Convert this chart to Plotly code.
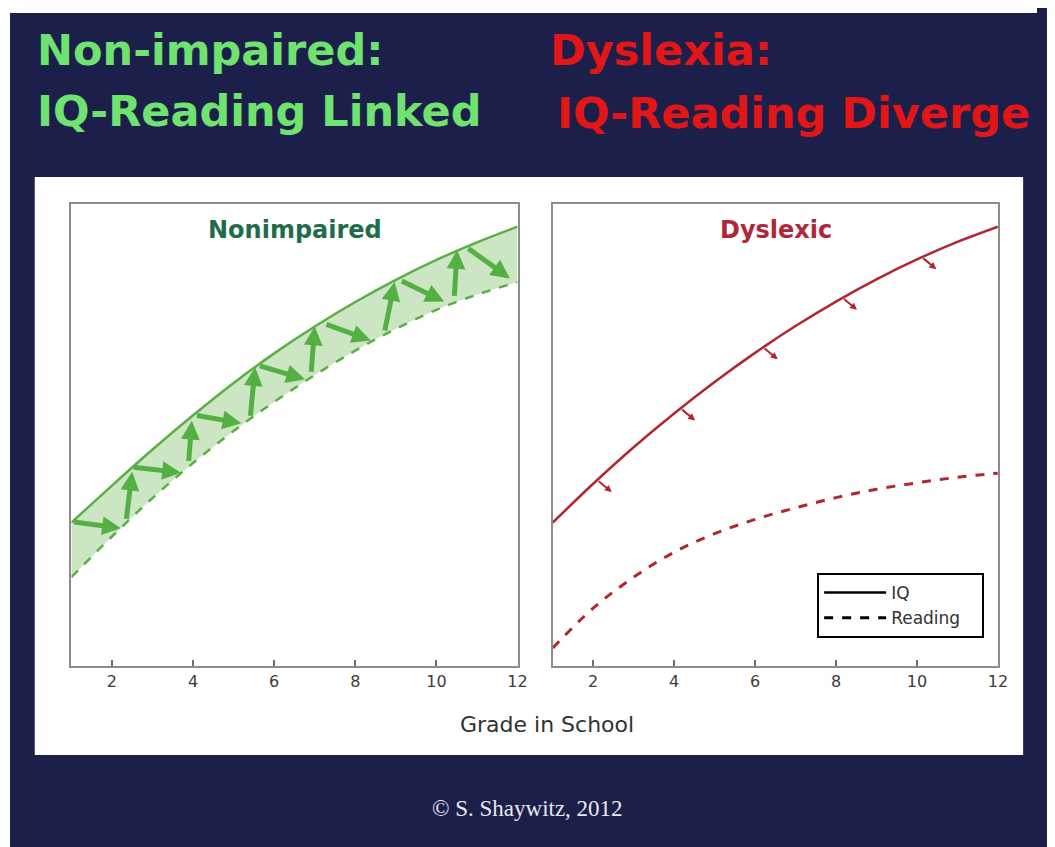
import plotly.graph_objects as go

# page body has an 8px margin; the figure fills the window width and reaches its bottom
OFF = 8
W, H = 1055 - 2 * OFF, 847 - OFF

# ---------------- data ----------------
grades = [1, 2, 3, 4, 5, 6, 7, 8, 9, 10, 11, 12]
nonimp_iq = [31, 39, 46.8, 54.2, 61.2, 67.6, 73.4, 78.7, 83.5, 87.8, 91.6, 95]
nonimp_reading = [19.2, 28.0, 36.3, 43.9, 50.8, 57.1, 62.9, 68.2, 72.9, 77.0, 80.3, 83]
dys_iq = [31, 39.4, 47.3, 54.6, 61.4, 67.7, 73.5, 78.8, 83.6, 87.9, 91.7, 95]
dys_reading = [3.9, 12.5, 19.2, 24.6, 28.6, 31.7, 34.2, 36.4, 38.2, 39.6, 40.8, 41.7]
tick_vals = [2, 4, 6, 8, 10, 12]

# green arrows IQ -> Reading (diagonal) : tails and tips
diag_tail_x = [1.03, 2.5, 4.06, 5.61, 7.25, 9.11, 10.75]
diag_tail_y = [31.2, 43, 54.2, 65, 74.0, 83.4, 90.5]
diag_tip_x = [2.22, 3.7, 5.19, 6.76, 8.38, 10.19, 11.81]
diag_tip_y = [29.8, 41.8, 52.5, 62.0, 70.4, 78.8, 83.8]
# green arrows Reading -> IQ (vertical)
vert_tail_x = [2.35, 3.89, 5.41, 6.91, 8.72, 10.44]
vert_tail_y = [31.5, 44.0, 53.8, 63.3, 72.2, 79.7]
vert_tip_x = [2.5, 3.97, 5.53, 7.0, 8.97, 10.51]
vert_tip_y = [42.0, 53.0, 64.6, 73.4, 83.0, 89.9]
# small red arrows on dyslexic IQ curve
red_tail_x = [2.1, 4.16, 6.2, 8.16, 10.12]
red_tail_y = [40.2, 55.7, 68.9, 79.6, 88.4]
red_dx = 0.36
red_dy = -2.6

# ---------------- style ----------------
NAVY = "rgb(28,31,74)"
GREEN_LINE = "rgb(92,174,72)"
GREEN_ARROW = "rgb(84,176,66)"
GREEN_FILL = "rgba(110,180,80,0.35)"
RED_LINE = "rgb(178,38,50)"
GREEN_TITLE = "rgb(30,108,74)"
RED_TITLE = "rgb(176,40,56)"
SANS = "DejaVu Sans"
NB = "\u00a0"


def px(x):
    return (x - OFF) / W


def py(y):
    return 1 - (y - OFF) / H


fig = go.Figure()

# Nonimpaired
fig.add_trace(go.Scatter(x=grades, y=nonimp_reading, mode="lines",
                         line=dict(color=GREEN_LINE, width=2.5, dash="dash", shape="spline"),
                         showlegend=False, xaxis="x", yaxis="y", hoverinfo="skip"))
fig.add_trace(go.Scatter(x=grades, y=nonimp_iq, mode="lines", fill="tonexty",
                         fillcolor=GREEN_FILL,
                         line=dict(color=GREEN_LINE, width=2.5, shape="spline"),
                         showlegend=False, xaxis="x", yaxis="y", hoverinfo="skip"))
# Dyslexic
fig.add_trace(go.Scatter(x=grades, y=dys_iq, mode="lines",
                         line=dict(color=RED_LINE, width=2.5, shape="spline"),
                         showlegend=False, xaxis="x2", yaxis="y2", hoverinfo="skip"))
fig.add_trace(go.Scatter(x=grades, y=dys_reading, mode="lines",
                         line=dict(color=RED_LINE, width=3, dash="dash", shape="spline"),
                         showlegend=False, xaxis="x2", yaxis="y2", hoverinfo="skip"))
# legend entries
fig.add_trace(go.Scatter(x=[None], y=[None], mode="lines", name="IQ",
                         line=dict(color="black", width=2.5), xaxis="x2", yaxis="y2"))
fig.add_trace(go.Scatter(x=[None], y=[None], mode="lines", name="Reading" + NB * 3,
                         line=dict(color="black", width=3, dash="dash"), xaxis="x2", yaxis="y2"))

annotations = []
for tx, ty, hx, hy in zip(diag_tail_x, diag_tail_y, diag_tip_x, diag_tip_y):
    annotations.append(dict(x=hx, y=hy, ax=tx, ay=ty, xref="x", yref="y", axref="x", ayref="y",
                            text="", showarrow=True, arrowhead=2, arrowsize=0.75,
                            arrowwidth=5, arrowcolor=GREEN_ARROW))
for tx, ty, hx, hy in zip(vert_tail_x, vert_tail_y, vert_tip_x, vert_tip_y):
    annotations.append(dict(x=hx, y=hy, ax=tx, ay=ty, xref="x", yref="y", axref="x", ayref="y",
                            text="", showarrow=True, arrowhead=2, arrowsize=0.75,
                            arrowwidth=5, arrowcolor=GREEN_ARROW))
for tx, ty in zip(red_tail_x, red_tail_y):
    annotations.append(dict(x=tx + red_dx, y=ty + red_dy, ax=tx, ay=ty, xref="x2", yref="y2",
                            axref="x2", ayref="y2", text="", showarrow=True, arrowhead=2,
                            arrowsize=0.7, arrowwidth=2, arrowcolor=RED_LINE))

# headers
hdr = 43
annotations += [
    dict(text="<b>Non-impaired:</b>", x=px(35), y=py(50), xref="paper", yref="paper",
         xanchor="left", yanchor="middle", showarrow=False,
         font=dict(family=SANS, size=hdr, color="rgb(112,226,112)")),
    dict(text="<b>IQ-Reading Linked</b>", x=px(35), y=py(111), xref="paper", yref="paper",
         xanchor="left", yanchor="middle", showarrow=False,
         font=dict(family=SANS, size=hdr, color="rgb(112,226,112)")),
    dict(text="<b>Dyslexia:</b>", x=px(553), y=py(50), xref="paper", yref="paper",
         xanchor="left", yanchor="middle", showarrow=False,
         font=dict(family=SANS, size=hdr, color="rgb(226,22,22)")),
    dict(text="<b>IQ-Reading Diverge</b>", x=px(560), y=py(113), xref="paper", yref="paper",
         xanchor="left", yanchor="middle", showarrow=False,
         font=dict(family=SANS, size=hdr, color="rgb(226,22,22)")),
    dict(text="<b>Nonimpaired</b>", x=px(298), y=py(230), xref="paper", yref="paper",
         xanchor="center", yanchor="middle", showarrow=False,
         font=dict(family=SANS, size=24, color=GREEN_TITLE)),
    dict(text="<b>Dyslexic</b>", x=px(783), y=py(230), xref="paper", yref="paper",
         xanchor="center", yanchor="middle", showarrow=False,
         font=dict(family=SANS, size=24, color=RED_TITLE)),
    dict(text="Grade in School", x=px(552), y=py(724), xref="paper", yref="paper",
         xanchor="center", yanchor="middle", showarrow=False,
         font=dict(family=SANS, size=22, color="rgb(50,50,50)")),
    dict(text="© S. Shaywitz, 2012", x=px(533), y=py(808), xref="paper", yref="paper",
         xanchor="center", yanchor="middle", showarrow=False,
         font=dict(family="Liberation Serif", size=23, color="rgb(232,232,240)")),
]

shapes = [
    # thin white strips at top and left edge of picture (beyond page margin)
    dict(type="rect", xref="paper", yref="paper", x0=0, x1=1, y0=py(13), y1=1,
         fillcolor="white", line=dict(width=0), layer="below"),
    dict(type="rect", xref="paper", yref="paper", x0=0, x1=px(10), y0=0, y1=1,
         fillcolor="white", line=dict(width=0), layer="below"),
    # white panel
    dict(type="rect", xref="paper", yref="paper", x0=px(35), x1=px(1033), y0=py(755), y1=py(177),
         fillcolor="white", line=dict(width=0), layer="below"),
]

axis_common = dict(range=[1, 12], tickvals=tick_vals, ticks="inside", ticklen=6,
                   tickcolor="rgb(110,110,110)", tickwidth=1.5,
                   showline=True, mirror=True, linecolor="rgb(140,140,140)", linewidth=2,
                   showgrid=False, zeroline=False,
                   tickfont=dict(family=SANS, size=16, color="rgb(60,60,60)"))
yaxis_common = dict(range=[0, 100], showticklabels=False, ticks="", showgrid=False,
                    zeroline=False, showline=True, mirror=True,
                    linecolor="rgb(140,140,140)", linewidth=2,
                    domain=[py(666), py(203.5)])

fig.update_layout(
    width=W, height=H,
    margin=dict(l=0, r=0, t=0, b=0),
    paper_bgcolor=NAVY, plot_bgcolor="white",
    xaxis=dict(domain=[px(72), px(522.5)], anchor="y", **axis_common),
    yaxis=dict(anchor="x", **yaxis_common),
    xaxis2=dict(domain=[px(558), px(1007.5)], anchor="y2", **axis_common),
    yaxis2=dict(anchor="x2", **yaxis_common),
    legend=dict(x=px(825), y=py(573), xanchor="left", yanchor="top",
                bgcolor="white", bordercolor="black", borderwidth=2,
                font=dict(family=SANS, size=17, color="rgb(50,50,50)"),
                itemwidth=62, traceorder="normal"),
    annotations=annotations,
    shapes=shapes,
)

fig.write_html("out.html")
